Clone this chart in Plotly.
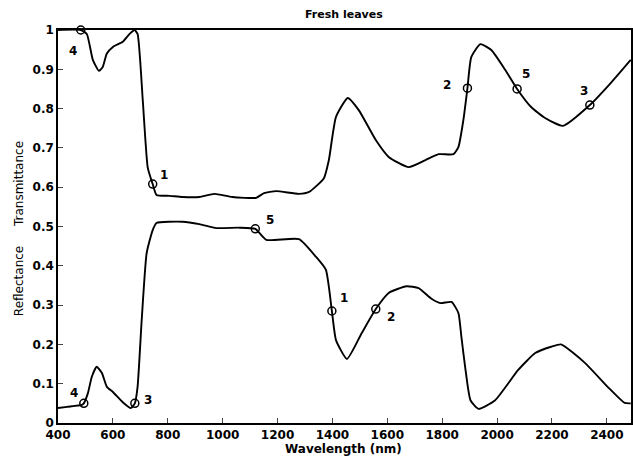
import plotly.graph_objects as go

# ---- data ----
trans_wl = [400, 483, 505, 527, 549, 563, 578, 600, 636, 661, 679, 690, 709, 727, 745, 759, 807, 854, 915, 970,
            1035, 1122, 1151, 1195, 1278, 1315, 1369, 1387, 1413, 1456, 1496, 1558, 1605, 1678, 1739, 1787, 1841,
            1859, 1877, 1892, 1906, 1939, 1979, 2030, 2073, 2124, 2175, 2240, 2338, 2414, 2487]
trans_val = [1.0, 1.0, 0.99, 0.924, 0.896, 0.906, 0.94, 0.957, 0.97, 0.99, 1.0, 0.99, 0.82, 0.65, 0.608, 0.58,
             0.578, 0.575, 0.575, 0.583, 0.575, 0.573, 0.585, 0.59, 0.583, 0.588, 0.623, 0.669, 0.779, 0.827,
             0.796, 0.72, 0.677, 0.651, 0.669, 0.684, 0.684, 0.702, 0.77, 0.852, 0.931, 0.964, 0.949, 0.898,
             0.85, 0.804, 0.776, 0.756, 0.809, 0.865, 0.924]

refl_wl = [400, 433, 487, 494, 509, 523, 541, 560, 578, 600, 636, 665, 680, 690, 705, 723, 745, 759, 854, 915,
           977, 1061, 1119, 1159, 1278, 1340, 1376, 1398, 1413, 1453, 1507, 1558, 1605, 1670, 1714, 1761, 1794,
           1834, 1859, 1870, 1885, 1903, 1932, 1993, 2077, 2139, 2197, 2233, 2320, 2403, 2465, 2487]
refl_val = [0.038, 0.041, 0.046, 0.05, 0.076, 0.117, 0.143, 0.127, 0.092, 0.079, 0.053, 0.038, 0.05, 0.092,
            0.262, 0.432, 0.491, 0.509, 0.512, 0.506, 0.496, 0.497, 0.494, 0.466, 0.468, 0.423, 0.39, 0.285,
            0.211, 0.163, 0.229, 0.29, 0.331, 0.348, 0.343, 0.316, 0.305, 0.308, 0.28, 0.219, 0.135, 0.058,
            0.036, 0.058, 0.135, 0.178, 0.194, 0.2, 0.153, 0.092, 0.051, 0.05]

trans_mark_wl = [483, 745, 1892, 2073, 2338]
trans_mark_val = [1.0, 0.608, 0.852, 0.85, 0.809]
trans_mark_lbl = ["4", "1", "2", "5", "3"]

refl_mark_wl = [494, 680, 1119, 1398, 1558]
refl_mark_val = [0.05, 0.05, 0.494, 0.285, 0.29]
refl_mark_lbl = ["4", "3", "5", "1", "2"]

x_ticks = [400, 600, 800, 1000, 1200, 1400, 1600, 1800, 2000, 2200, 2400]
y_ticks = [0, 0.1, 0.2, 0.3, 0.4, 0.5, 0.6, 0.7, 0.8, 0.9, 1]
y_tick_text = ["0", "0.1", "0.2", "0.3", "0.4", "0.5", "0.6", "0.7", "0.8", "0.9", "1"]

# ---- styling (label offsets in px: dx right, dy down) ----
trans_offsets = [(-8, 21), (11, -9), (-20, -3), (9, -15), (-6, -14)]
refl_offsets = [(-10, -10), (13, -3), (15, -9), (12, -13), (15, 8)]

FONT = "DejaVu Sans"

fig = go.Figure()
line_style = dict(color="black", width=1.9, shape="spline", smoothing=0.5)
fig.add_trace(go.Scatter(x=trans_wl, y=trans_val, mode="lines", line=line_style, hoverinfo="skip"))
fig.add_trace(go.Scatter(x=refl_wl, y=refl_val, mode="lines", line=line_style, hoverinfo="skip"))

mk = dict(symbol="circle-open", size=8, color="black", line=dict(width=1.5, color="black"))
fig.add_trace(go.Scatter(x=trans_mark_wl, y=trans_mark_val, mode="markers", marker=mk, cliponaxis=False))
fig.add_trace(go.Scatter(x=refl_mark_wl, y=refl_mark_val, mode="markers", marker=mk, cliponaxis=False))

annotations = []
for xs, ys, ls, offs in [(trans_mark_wl, trans_mark_val, trans_mark_lbl, trans_offsets),
                         (refl_mark_wl, refl_mark_val, refl_mark_lbl, refl_offsets)]:
    for x, y, t, (dx, dy) in zip(xs, ys, ls, offs):
        annotations.append(dict(x=x, y=y, xref="x", yref="y", text="<b>%s</b>" % t, showarrow=False,
                                xanchor="center", yanchor="middle",
                                xshift=dx, yshift=-dy, font=dict(family=FONT, size=12, color="black")))

annotations.append(dict(x=0.5, y=1, xref="paper", yref="paper", text="<b>Fresh leaves</b>", showarrow=False,
                        xanchor="center", yanchor="middle", yshift=16, xshift=-1,
                        font=dict(family=FONT, size=11, color="black")))
annotations.append(dict(x=0.5, y=0, xref="paper", yref="paper", text="<b>Wavelength (nm)</b>", showarrow=False,
                        xanchor="center", yanchor="middle", yshift=-26, xshift=-1,
                        font=dict(family=FONT, size=12, color="black")))
annotations.append(dict(x=0, y=0.608, xref="paper", yref="paper", text="Transmittance", showarrow=False,
                        xanchor="center", yanchor="middle", textangle=-90, xshift=-39,
                        font=dict(family=FONT, size=12, color="black")))
annotations.append(dict(x=0, y=0.361, xref="paper", yref="paper", text="Reflectance", showarrow=False,
                        xanchor="center", yanchor="middle", textangle=-90, xshift=-39,
                        font=dict(family=FONT, size=12, color="black")))

fig.update_layout(
    width=633, height=456,
    margin=dict(l=58, r=0, t=30, b=33),
    paper_bgcolor="white", plot_bgcolor="white",
    showlegend=False,
    annotations=annotations,
)
fig.update_xaxes(range=[400, 2488], tickvals=x_ticks, ticks="inside", ticklen=5, tickwidth=1.2,
                 showline=True, linecolor="black", linewidth=1.5, mirror=True, showgrid=False, zeroline=False,
                 tickfont=dict(family=FONT, size=12, color="black", weight="bold"))
fig.update_yaxes(range=[0, 1], tickvals=y_ticks, ticktext=y_tick_text, ticks="inside", ticklen=5, tickwidth=1.2,
                 showline=True, linecolor="black", linewidth=1.5, mirror=True, showgrid=False, zeroline=False,
                 tickfont=dict(family=FONT, size=12, color="black", weight="bold"))

fig.write_html("out.html")
